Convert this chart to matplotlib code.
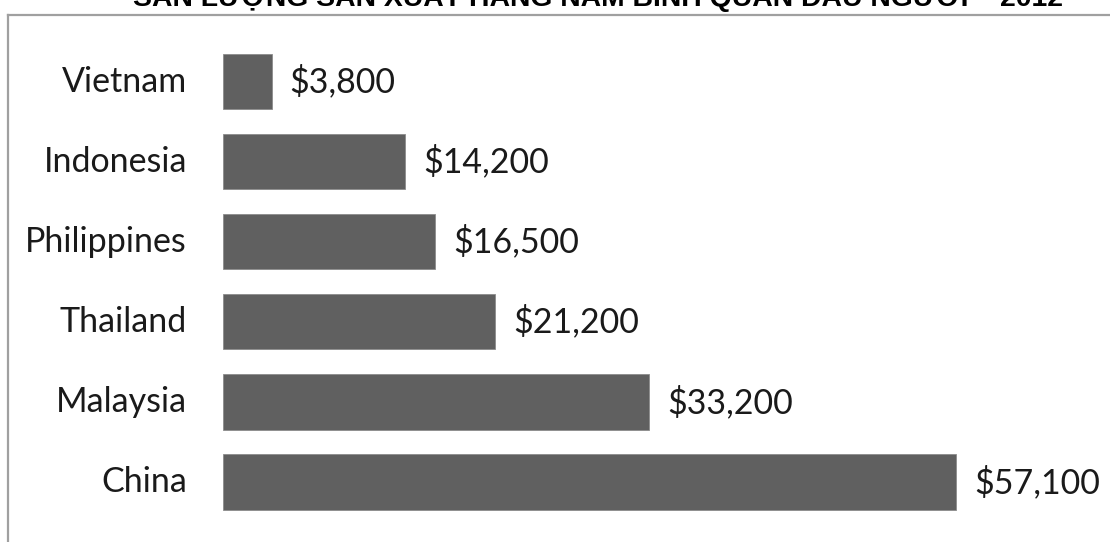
import matplotlib
matplotlib.use("Agg")
import matplotlib.pyplot as plt
from matplotlib.lines import Line2D

countries = ["Vietnam", "Indonesia", "Philippines", "Thailand", "Malaysia", "China"]
gdp_per_capita = [3800, 14200, 16500, 21200, 33200, 57100]
title = "SẢN LƯỢNG SẢN XUẤT HÀNG NĂM BÌNH QUÂN ĐẦU NGƯỜI – 2012"

W, H, DPI = 1110, 542, 100
fig = plt.figure(figsize=(W / DPI, H / DPI), dpi=DPI)
fig.patch.set_facecolor("white")

# axes spans from the bar baseline to the right edge of the figure
left_px = 223
ax = fig.add_axes([left_px / W, 0, (W - left_px) / W, 1])
px_per_dollar = (956 - 223) / 57100
ax.set_xlim(0, (W - left_px) / px_per_dollar)
row_px = 80.1
first_px = 81.5
ax.set_ylim(5 + (H - (first_px + 5 * row_px)) / row_px, -first_px / row_px)
ax.axis("off")

ypos = list(range(len(countries)))
ax.barh(ypos, gdp_per_capita, height=0.69, color="#606060",
        edgecolor="#8c8c8c", linewidth=0.6)

label_font = dict(family=["Lato", "DejaVu Sans"], size=24.5, color="#1a1a1a")
for y, name, v in zip(ypos, countries, gdp_per_capita):
    ax.annotate(name, (0, y), xytext=(-36, 0), textcoords="offset pixels",
                ha="right", va="center", **label_font)
    ax.annotate(f"${v:,}", (v, y), xytext=(18, 0), textcoords="offset pixels",
                ha="left", va="center", **label_font)

# chart frame (only top and left edges fall inside the image)
fx0, fy0 = 8 / W, 1 - 15 / H
fig.add_artist(Line2D([fx0, fx0], [0, fy0], color="#a0a0a0", lw=1.6,
                      transform=fig.transFigure))
fig.add_artist(Line2D([fx0, 1], [fy0, fy0], color="#a0a0a0", lw=1.6,
                      transform=fig.transFigure))

fig.text(598 / W, 1 - 6 / H, title, ha="center", va="baseline",
         family=["Liberation Sans", "DejaVu Sans"], weight="bold",
         size=20.4, color="black")

fig.savefig("out.png", dpi=DPI)
